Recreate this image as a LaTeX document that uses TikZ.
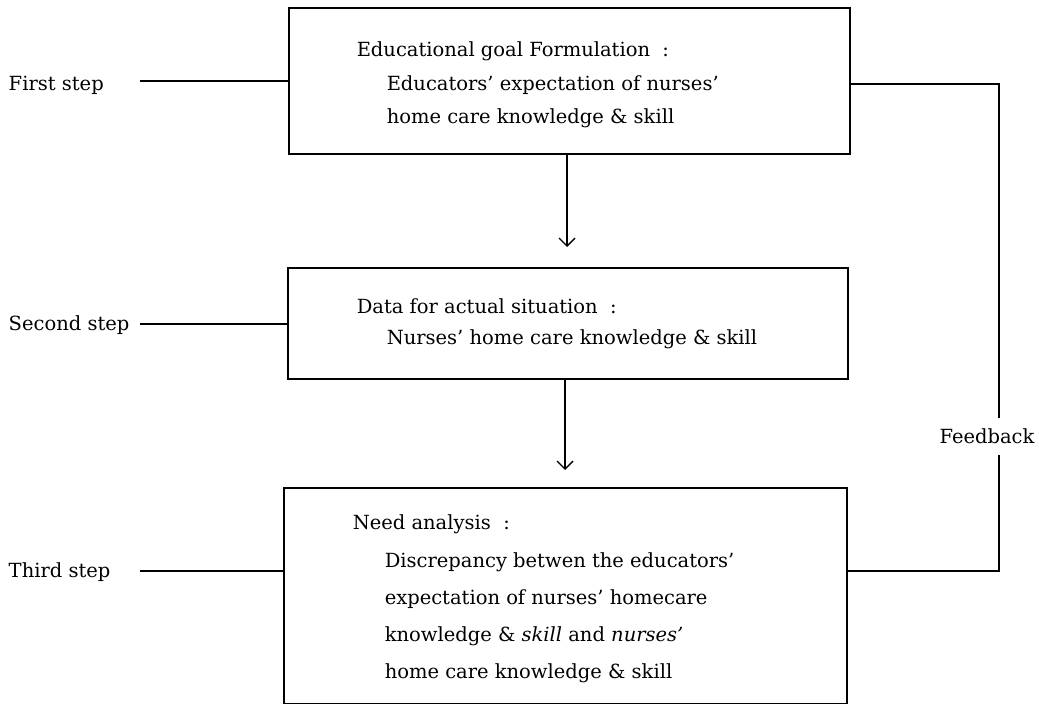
\documentclass[tikz,border=0pt]{standalone}
\usepackage{fontspec}
\setmainfont{DejaVu Serif}
\usetikzlibrary{arrows.meta}
\begin{document}
\begin{tikzpicture}[x=1pt,y=-1pt,
  line width=1.5pt,
  stepbox/.style={draw,line width=1.7pt,rectangle,inner sep=0pt,anchor=north west},
  txt/.style={anchor=base west,inner sep=0pt,font=\fontsize{19.5}{23}\selectfont},
  lbl/.style={anchor=base west,inner sep=0pt,font=\fontsize{19.5}{23}\selectfont},
  arr/.style={-{Straight Barb[length=8pt,width=16pt,line width=1.4pt]}}]
\useasboundingbox (0,0) rectangle (1039,704);
% boxes
\node[stepbox,minimum width=561pt,minimum height=146pt] (b1) at (288,7) {};
\node[stepbox,minimum width=560pt,minimum height=111pt] (b2) at (287,267) {};
\node[stepbox,minimum width=563pt,minimum height=216pt] (b3) at (283,487) {};
% box texts
\node[txt] (t11) at (356,56) {Educational goal Formulation\ \ :};
\node[txt] (t12) at (386,90) {Educators' expectation of nurses'};
\node[txt] (t13) at (386,123) {home care knowledge \& skill};
\node[txt] (t21) at (356,313) {Data for actual situation\ \ :};
\node[txt] (t22) at (386,344) {Nurses' home care knowledge \& skill};
\node[txt] (t31) at (352,529) {Need analysis\ \ :};
\node[txt] (t32) at (384,567) {Discrepancy betwen the educators'};
\node[txt] (t33) at (384,604) {expectation of nurses' homecare};
\node[txt] (t34) at (384,641) {knowledge \& \textit{skill} and \textit{nurses'}};
\node[txt] (t35) at (384,678) {home care knowledge \& skill};
% step labels
\node[lbl] (l1) at (8,90) {First step};
\node[lbl] (l2) at (8,330) {Second step};
\node[lbl] (l3) at (8,577) {Third step};
\coordinate (c1) at (140,81);
\coordinate (c2) at (140,324);
\coordinate (c3) at (140,571);
\draw (c1) -- (c1 -| b1.west);
\draw (c2) -- (c2 -| b2.west);
\draw (c3) -- (c3 -| b3.west);
% arrows
\coordinate (a1) at (567,247);
\coordinate (a2) at (565,470);
\draw[arr] (b1.south -| a1) -- (a1);
\draw[arr] (b2.south -| a2) -- (a2);
% feedback
\node[lbl,anchor=base] (fb) at (987,443) {Feedback};
\coordinate (f1) at (849,84);
\coordinate (f3) at (846,571);
\draw (f1) -- (999,84) -- (999,418);
\draw (999,455) -- (999,571) -- (f3);
\end{tikzpicture}
\end{document}
